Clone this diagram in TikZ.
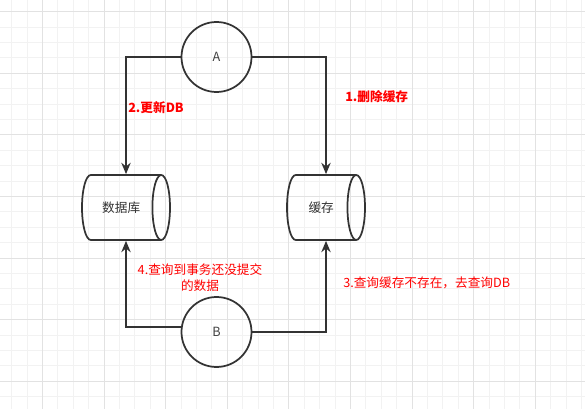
\documentclass[tikz,border=0pt]{standalone}
\usepackage{fontspec}
\setmainfont{Noto Sans CJK SC}
\usetikzlibrary{shapes.geometric,arrows.meta}
\definecolor{linegray}{HTML}{333333}
\definecolor{gridminor}{HTML}{F2F2F2}
\definecolor{gridmajor}{HTML}{E2E2E2}
\begin{document}
\begin{tikzpicture}[x=0.75pt,y=-0.75pt,
	font=\fontsize{9.5pt}{12pt}\selectfont,
	proc/.style={circle,draw=linegray,line width=1.3pt,minimum size=52.5pt,inner sep=0pt,text=black!75},
	store/.style={cylinder,draw=linegray,line width=1.3pt,shape aspect=1.5,minimum width=48.75pt,inner sep=0pt,text=black!80,anchor=shape center},
	flow/.style={draw=linegray,line width=1.3pt,-{Stealth[length=8.5pt,width=7pt]}},
	note/.style={text=red,inner sep=0pt}]
	\useasboundingbox (0,0) rectangle (585,409);
	% background grid
	\foreach \k in {0,...,37} {
		\draw[gridminor,line width=0.8pt] (11.7+15.4*\k,0) -- (11.7+15.4*\k,409);
	}
	\foreach \k in {0,...,25} {
		\draw[gridminor,line width=0.8pt] (0,11.7+15.4*\k) -- (585,11.7+15.4*\k);
	}
	\foreach \k in {0,...,8} {
		\draw[gridmajor,line width=0.8pt] (42.5+61.6*\k,0) -- (42.5+61.6*\k,409);
	}
	\foreach \k in {0,...,6} {
		\draw[gridmajor,line width=0.8pt] (0,11.7+61.6*\k) -- (585,11.7+61.6*\k);
	}
	% nodes
	\node [proc] (A) at (216.5,57) {A};
	\node [proc] (B) at (216.5,332) {B};
	\node [store,minimum height=66pt] (db) at (126,207.5) {数据库};
	\node [store,minimum height=58.5pt] (cache) at (326,207.5) {缓存};
	% connectors
	\draw [flow] (A.west) -| (db.shape center |- db.north);
	\draw [flow] (A.east) -| (cache.shape center |- cache.north);
	\draw [flow] (B.172) -| (db.shape center |- db.south);
	\draw [flow] (B.east) -| (cache.shape center |- cache.south);
	% labels
	\node [note,anchor=west,font=\fontsize{9.5pt}{12pt}\selectfont\bfseries] (l1) at (345,97) {1.删除缓存};
	\node [note,anchor=west,font=\fontsize{9.5pt}{12pt}\selectfont\bfseries] (l2) at (128,108) {2.更新DB};
	\node [note,anchor=west] (l3) at (343,283) {3.查询缓存不存在，去查询DB};
	\node [note,align=center] (l4) at (200,277.5) {4.查询到事务还没提交\\的数据};
\end{tikzpicture}
\end{document}
